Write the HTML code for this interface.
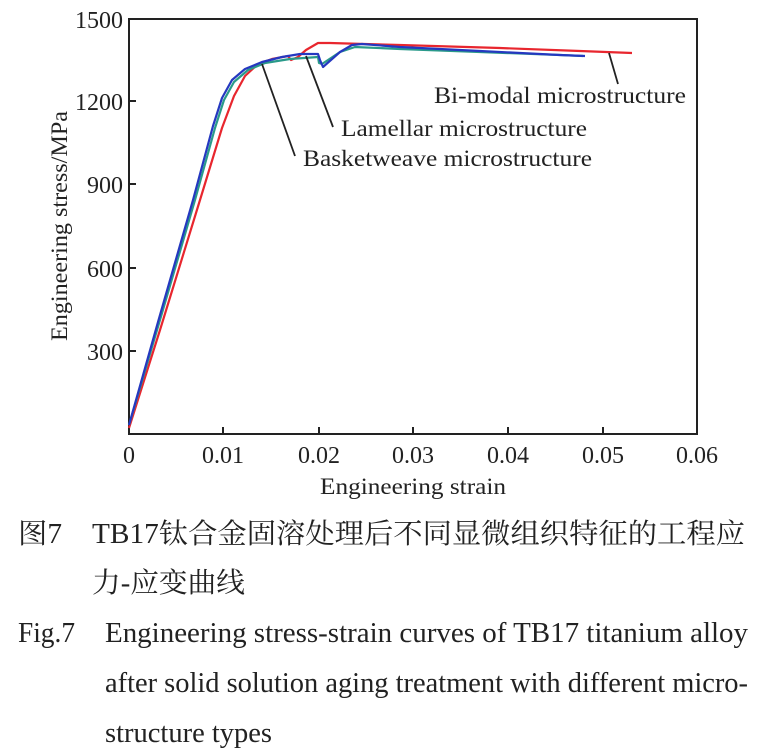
<!DOCTYPE html>
<html><head><meta charset="utf-8"><style>
html,body{margin:0;padding:0;background:#fff;}
svg{display:block;}
text{font-family:"Liberation Serif","Noto Serif CJK SC",serif;fill:#222;}
.en{font-family:"Liberation Serif",serif;}
</style></head><body>
<svg width="761" height="752" viewBox="0 0 761 752" xmlns="http://www.w3.org/2000/svg">
<rect width="761" height="752" fill="#fff"/>
<rect x="129" y="19" width="568" height="415" fill="none" stroke="#222" stroke-width="2"/>
<g stroke="#222" stroke-width="2">
<line x1="223" y1="434" x2="223" y2="427"/><line x1="319" y1="434" x2="319" y2="427"/>
<line x1="413" y1="434" x2="413" y2="427"/><line x1="508" y1="434" x2="508" y2="427"/>
<line x1="603" y1="434" x2="603" y2="427"/>
<line x1="129" y1="101" x2="136" y2="101"/><line x1="129" y1="184" x2="136" y2="184"/>
<line x1="129" y1="268" x2="136" y2="268"/><line x1="129" y1="351" x2="136" y2="351"/>
</g>
<g font-size="24" text-anchor="end" class="en">
<text class="en" x="123" y="28">1500</text><text class="en" x="123" y="110">1200</text>
<text class="en" x="123" y="193">900</text><text class="en" x="123" y="277">600</text><text class="en" x="123" y="360">300</text>
</g>
<g font-size="24" text-anchor="middle">
<text class="en" x="129" y="463">0</text><text class="en" x="223" y="463">0.01</text><text class="en" x="319" y="463">0.02</text>
<text class="en" x="413" y="463">0.03</text><text class="en" x="508" y="463">0.04</text><text class="en" x="603" y="463">0.05</text>
<text class="en" x="697" y="463">0.06</text>
</g>
<text class="en" x="413" y="494" font-size="23" text-anchor="middle" textLength="186" lengthAdjust="spacingAndGlyphs">Engineering strain</text>
<text class="en" transform="translate(67,226) rotate(-90)" font-size="23" text-anchor="middle" textLength="230" lengthAdjust="spacingAndGlyphs">Engineering stress/MPa</text>
<polyline fill="none" stroke="#e8262e" stroke-width="2.2" stroke-linejoin="round" points="129,428 160,330 200,200 222,128 234,96 245,76 258,64 272,59 288,56 291,60 298,57 306,50 318,43 330,43 400,45 500,48 580,51 632,53"/>
<polyline fill="none" stroke="#2a9a8a" stroke-width="2.2" stroke-linejoin="round" points="129,425 160,320 195,200 215,128 224,100 234,82 248,70 265,63 290,59 318,57 319,63 322,64 340,52 355,47 400,49 480,52 560,55 583,56"/>
<polyline fill="none" stroke="#2538c0" stroke-width="2.2" stroke-linejoin="round" points="129,425 158,322 193,200 213,126 222,98 232,80 245,69 262,62 282,57 300,54 318,54 320,60 323,67 340,52 352,45 362,44 400,47 480,51 560,55 585,56"/>
<g stroke="#222" stroke-width="1.8">
<line x1="609" y1="53" x2="618" y2="84"/>
<line x1="306" y1="56" x2="333" y2="127"/>
<line x1="262" y1="64" x2="295" y2="156"/>
</g>
<g font-size="23">
<text class="en" x="434" y="103" textLength="252" lengthAdjust="spacingAndGlyphs">Bi-modal microstructure</text>
<text class="en" x="341" y="136" textLength="246" lengthAdjust="spacingAndGlyphs">Lamellar microstructure</text>
<text class="en" x="303" y="166" textLength="289" lengthAdjust="spacingAndGlyphs">Basketweave microstructure</text>
</g>
<g font-size="28">
<text x="18" y="543" textLength="44" lengthAdjust="spacingAndGlyphs">图7</text>
<text x="92" y="543" textLength="653" lengthAdjust="spacingAndGlyphs">TB17钛合金固溶处理后不同显微组织特征的工程应</text>
<text x="92" y="592" textLength="153" lengthAdjust="spacingAndGlyphs">力-应变曲线</text>
</g>
<g font-size="28">
<text class="en" x="18" y="642" textLength="57" lengthAdjust="spacingAndGlyphs">Fig.7</text>
<text class="en" x="105" y="642" textLength="643" lengthAdjust="spacingAndGlyphs">Engineering stress-strain curves of TB17 titanium alloy</text>
<text class="en" x="105" y="692" textLength="643" lengthAdjust="spacingAndGlyphs">after solid solution aging treatment with different micro-</text>
<text class="en" x="105" y="742" textLength="167" lengthAdjust="spacingAndGlyphs">structure types</text>
</g>
</svg>
</body></html>
